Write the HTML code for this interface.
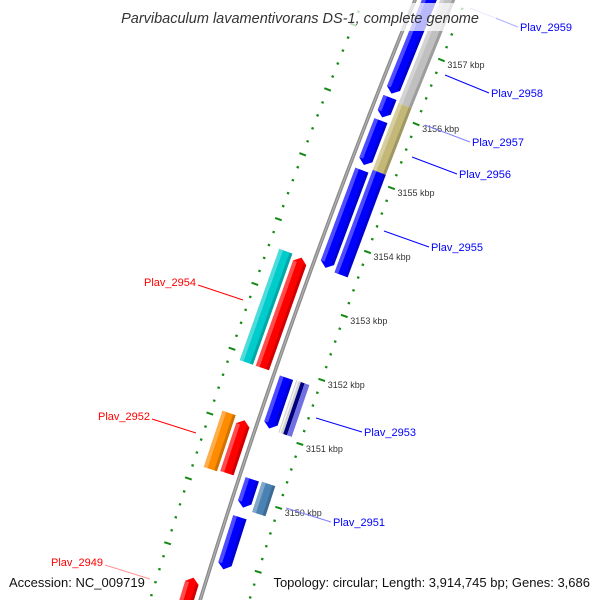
<!DOCTYPE html>
<html><head><meta charset="utf-8"><style>
html,body{margin:0;padding:0;background:#fff;width:600px;height:600px;overflow:hidden;}
svg{display:block;font-family:"Liberation Sans",sans-serif;overflow:hidden;}
</style></head><body>
<svg id="map" width="600" height="600" viewBox="0 0 600 600" xmlns="http://www.w3.org/2000/svg">
<g id="rulers"></g>
<g id="backbone"></g>
<g id="features"></g>
<g id="labels">
 <line x1="470" y1="8" x2="518" y2="27" stroke="#aab0ff" stroke-width="1"/>
 <text x="520" y="31" font-size="11" fill="#0000ff">Plav_2959</text>
 <line x1="445" y1="75" x2="489" y2="93" stroke="#0000ff" stroke-width="1"/>
 <text x="491" y="97" font-size="11" fill="#0000ff">Plav_2958</text>
 <line x1="425" y1="125" x2="470" y2="142" stroke="#7f7fff" stroke-width="1"/>
 <text x="472" y="146" font-size="11" fill="#0000ff">Plav_2957</text>
 <line x1="412" y1="157" x2="457" y2="174" stroke="#0000ff" stroke-width="1"/>
 <text x="459" y="178" font-size="11" fill="#0000ff">Plav_2956</text>
 <line x1="384" y1="231" x2="429" y2="247" stroke="#0000ff" stroke-width="1"/>
 <text x="431" y="251" font-size="11" fill="#0000ff">Plav_2955</text>
 <line x1="316" y1="418" x2="362" y2="432" stroke="#0000ff" stroke-width="1"/>
 <text x="364" y="436" font-size="11" fill="#0000ff">Plav_2953</text>
 <line x1="286" y1="508" x2="331" y2="522" stroke="#7f7fff" stroke-width="1"/>
 <text x="333" y="526" font-size="11" fill="#0000ff">Plav_2951</text>
 <line x1="198" y1="285" x2="243" y2="300" stroke="#ff0000" stroke-width="1"/>
 <text x="196" y="286" font-size="11" fill="#ff0000" text-anchor="end">Plav_2954</text>
 <line x1="152" y1="419" x2="196" y2="433" stroke="#ff0000" stroke-width="1"/>
 <text x="150" y="420" font-size="11" fill="#ff0000" text-anchor="end">Plav_2952</text>
 <line x1="105" y1="565" x2="150" y2="579" stroke="#ff9090" stroke-width="1"/>
 <text x="103" y="566" font-size="11" fill="#ff0000" text-anchor="end">Plav_2949</text>
</g>
<rect x="104" y="3" width="392" height="28" fill="#fff" opacity="0.72"/>
<text x="300" y="23" font-size="14.5" font-style="italic" fill="#333" text-anchor="middle">Parvibaculum lavamentivorans DS-1, complete genome</text>
<text x="9" y="587" font-size="13" fill="#111">Accession: NC_009719</text>
<text x="590" y="587" font-size="13" fill="#111" text-anchor="end">Topology: circular; Length: 3,914,745 bp; Genes: 3,686</text>
</svg>
<script>
// feature data (kbp)
const featNames = ["plav-2959","plav-2958","plav-2957","plav-2955","plav-2953","plav-2951","plav-2950","plav-2958-cog","plav-2956-cog","plav-2955-cog","plav-2953-cog","plav-2951-cog","plav-2954","plav-2952","plav-2949","plav-2954-cog","plav-2952-cog"];
const featStart = [3158.2,3156.22,3155.86,3155.09,3151.86,3150.28,3149.69,3158.3,3156.19,3155.15,3151.87,3150.29,3151.88,3150.25,3147.6,3151.88,3150.23];
const featEnd   = [3156.28,3155.91,3155.17,3153.57,3151.07,3149.84,3148.88,3156.19,3155.15,3153.55,3151.06,3149.82,3153.59,3151.07,3148.63,3153.60,3151.10];
const featTrack = ["ri","ri","ri","ri","ri","ri","ri","ro","ro","ro","ro","ro","li","li","li","lo","lo"];
const featColor = ["#0000ff","#0000ff","#0000ff","#0000ff","#0000ff","#0000ff","#0000ff","#c0c0c0","#c4b878","#0000ff","stripe","#4a82b4","#ff0000","#ff0000","#ff0000","#00cccc","#ff8c00"];
const rulerMin = 3147.4, rulerMax = 3158.6;
const tickLabels = [3150,3151,3152,3153,3154,3155,3156,3157];

const NS="http://www.w3.org/2000/svg";
function X(y){return 415-0.408*y+0.0000833*y*y;}
function dX(y){return -0.408+0.0001666*y;}
function Y0(k){return 42.5+(3157-k)*64.4;}
function P(k,d){const y0=Y0(k),x0=X(y0),s=dX(y0),L=Math.sqrt(1+s*s);return [x0+d/L,y0-d*s/L];}
function pts(a){return a.map(p=>p[0].toFixed(2)+","+p[1].toFixed(2)).join(" ");}
const trackD={ri:[6,20],ro:[23,37],li:[-20,-6],lo:[-37,-23]};

const bb=document.getElementById("backbone");
let bpts=[];for(let k=rulerMax+0.5;k>=rulerMin-0.5;k-=0.1)bpts.push(P(k,0));
[["#8a8a8a",3.6],["#b0b0b0",1.2]].forEach(([c,w])=>{
 const pl=document.createElementNS(NS,"polyline");
 
 
 pl.setAttribute("points",pts(bpts));pl.setAttribute("fill","none");pl.setAttribute("stroke",c);pl.setAttribute("stroke-width",w);
 bb.appendChild(pl);});

const rg=document.getElementById("rulers");
[47,-48].forEach(d=>{
 for(let i=0;;i++){
  const k=Math.round((rulerMin+i*0.2)*10)/10; if(k>rulerMax)break;
  const major=Math.abs(k-Math.round(k))<0.01;
  const a=P(k,d-(major?3.5:1.2)),b=P(k,d+(major?3.5:1.2));
  const ln=document.createElementNS(NS,"line");
  
  
  ln.setAttribute("x1",a[0]);ln.setAttribute("y1",a[1]);ln.setAttribute("x2",b[0]);ln.setAttribute("y2",b[1]);
  ln.setAttribute("stroke","#138a13");ln.setAttribute("stroke-width",major?2:2.2);
  rg.appendChild(ln);
 }
});
tickLabels.forEach(k=>{
 const p=P(k,47);
 const t=document.createElementNS(NS,"text");
 
 
 t.setAttribute("x",p[0]+6);t.setAttribute("y",p[1]+8);t.setAttribute("font-size","9");t.setAttribute("fill","#333");
 t.textContent=k+" kbp";rg.appendChild(t);
});

const fg=document.getElementById("features");
function poly(arr,fill,op,name){
 const e=document.createElementNS(NS,"polygon");
 
 
 e.setAttribute("points",pts(arr));e.setAttribute("fill",fill);if(op!==undefined)e.setAttribute("opacity",op);
 fg.appendChild(e);return e;
}
function bar(kt,kb,d1,d2,arrow){
 const m=(d1+d2)/2,ah=0.08;
 if(arrow==="down") return [P(kt,d1),P(kt,d2),P(kb+ah,d2),P(kb,m),P(kb+ah,d1)];
 if(arrow==="up") return [P(kt,m),P(kt-ah,d2),P(kb,d2),P(kb,d1),P(kt-ah,d1)];
 return [P(kt,d1),P(kt,d2),P(kb,d2),P(kb,d1)];
}
featNames.forEach((n,i)=>{
 const kt=Math.max(featStart[i],featEnd[i]),kb=Math.min(featStart[i],featEnd[i]);
 const tr=featTrack[i],[d1,d2]=trackD[tr];
 const arrow=tr==="ri"?"down":(tr==="li"?"up":"none");
 const name="feature-"+n;
 if(featColor[i]==="stripe"){
  poly(bar(kt,kb,d1,d1+5,"none"),"#d0d0d0",undefined,name);
  poly(bar(kt,kb,d1+1,d1+2.5,"none"),"#ffffff",0.8,name+"-hl");
  poly(bar(kt,kb,d1+5,d1+9,"none"),"#000080",undefined,name+"-mid");
  poly(bar(kt,kb,d1+9,d2,"none"),"#7070e0",undefined,name+"-outer");
  return;
 }
 poly(bar(kt,kb,d1,d2,arrow),featColor[i],undefined,name);
 const ah=arrow==="none"?0:0.08;
 const t2=arrow==="up"?kt-ah:kt, b2=arrow==="down"?kb+ah:kb;
 poly(bar(t2,b2,d1,d1+4,"none"),"#ffffff",0.3,name+"-highlight");
 poly(bar(t2,b2,d2-3,d2,"none"),"#000000",0.18,name+"-shade");
});
</script>
</body></html>
